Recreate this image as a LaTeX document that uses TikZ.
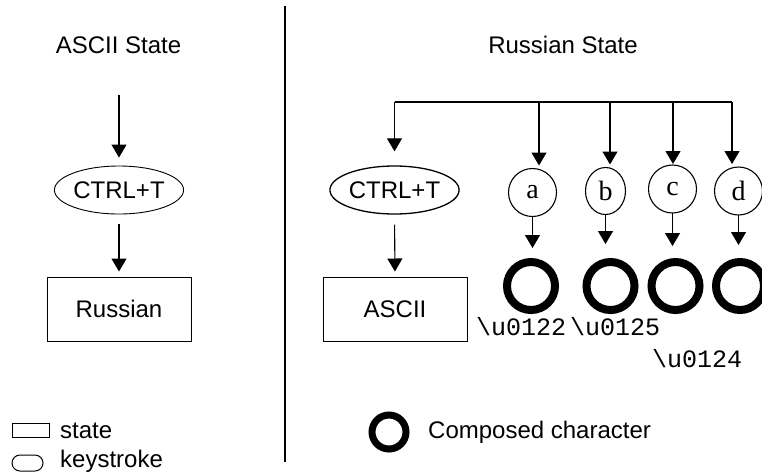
\documentclass[tikz,border=0pt]{standalone}
\usepackage{fontspec}
\setmainfont{Liberation Sans}
\newfontfamily\serifchar{Liberation Serif}
\newfontfamily\monochar{Liberation Mono}
\usetikzlibrary{arrows.meta,shapes.geometric}
\begin{document}
\begin{tikzpicture}[x=1pt,y=-1pt,
  lbl/.style={font=\fontsize{24}{28}\selectfont, inner sep=0pt},
  codelbl/.style={font=\monochar\fontsize{25}{28}\selectfont, inner sep=0pt},
  statebox/.style={draw, line width=1pt, minimum width=144pt, minimum height=64pt, inner sep=0pt, font=\fontsize{24}{28}\selectfont},
  keyell/.style={draw, ellipse, line width=1.1pt, minimum width=128pt, minimum height=48pt, inner sep=0pt, font=\fontsize{24}{28}\selectfont},
  charcirc/.style={draw, circle, line width=1.1pt, minimum size=48pt, inner sep=0pt, outer sep=0pt, font=\serifchar\fontsize{28}{30}\selectfont},
  ring/.style={draw, circle, line width=8pt, minimum size=48pt, inner sep=0pt, outer sep=0pt},
  arr/.style={-{Triangle[length=13pt,width=15pt]}, line width=1.1pt},
  plainline/.style={line width=1.1pt},
]
\useasboundingbox (0,0) rectangle (762,475);

% divider
\coordinate (dt) at (285,6);
\coordinate (db) at (285,462);
\draw[plainline] (dt) -- (db);

% titles
\node[lbl, anchor=base] (asciiT) at (118.5,53) {ASCII State};
\node[lbl, anchor=base] (rusT) at (563,53) {Russian State};

% left column
\coordinate (lin) at (119,95);
\node[keyell, line width=0.9pt] (lkey) at (119,190) {CTRL+T};
\node[statebox] (lbox) at (119,309) {Russian};
\draw[arr, shorten >=8pt] (lin) -- (lkey.north);
\draw[arr, shorten <=10pt, shorten >=5pt] (lkey.south) -- (lbox.north);

% right column: bus
\coordinate (busL) at (394.5,102);
\coordinate (busR) at (732,102);
\coordinate (ja) at (539,102);
\coordinate (jb) at (610,102);
\coordinate (jc) at (673,102);
\draw[plainline] (busL) -- (busR);

\node[keyell, line width=1.3pt] (rkey) at (394.5,190) {CTRL+T};
\node[statebox] (rbox) at (395,309) {ASCII};
\draw[arr, shorten >=14pt] (busL) -- (rkey.north);
\draw[arr, shorten <=10pt, shorten >=5pt] (rkey.south) -- (rbox.north);

% key circles
\node[charcirc] (ca) at (532.5,192.5) {a};
\node[charcirc, ellipse, minimum width=40pt, minimum height=47pt] (cb) at (605.5,191) {b};
\node[charcirc] (cc) at (672.5,189) {c};
\node[charcirc] (cd) at (738.5,191) {d};

\draw[arr, shorten >=3pt] (ja) -- (ja |- ca.north);
\draw[arr, shorten >=3pt] (jb) -- (jb |- cb.north);
\draw[arr, shorten >=1pt] (jc) -- (jc |- cc.north);
\draw[arr, shorten >=3pt] (busR) -- (busR |- cd.north);

% composed characters
\node[ring] (ra) at (531,286) {};
\node[ring] (rb) at (610.5,286) {};
\node[ring] (rc) at (675.5,286) {};
\node[ring] (rd) at (740,286) {};

\draw[arr, shorten >=14pt] (ca.south) -- (ca.south |- ra.north);
\draw[arr, shorten >=18pt] (cb.south) -- (cb.south |- rb.north);
\draw[arr, shorten >=16pt] (cc.south) -- (cc.south |- rc.north);
\draw[arr, shorten >=17pt] (cd.south) -- (cd.south |- rd.north);

\node[codelbl, anchor=base west] (ua) at (476,335) {\textbackslash u0122};
\node[codelbl, anchor=base west] (ub) at (570,335) {\textbackslash u0125};
\node[codelbl, anchor=base west] (uc) at (652,367) {\textbackslash u0124};

% legend
\node[draw, line width=1pt, minimum width=37pt, minimum height=14pt, inner sep=0pt] (lgS) at (30.5,430) {};
\node[lbl, anchor=base west] (lgSt) at (60,438) {state};
\node[draw, line width=1pt, rounded corners=8pt, minimum width=31pt, minimum height=16pt, inner sep=0pt] (lgK) at (27.5,463) {};
\node[lbl, anchor=base west] (lgKt) at (60,467) {keystroke};
\node[draw, circle, line width=7pt, minimum size=34pt, inner sep=0pt] (lgR) at (389,432) {};
\node[lbl, anchor=base west] (lgRt) at (428,438) {Composed character};
\end{tikzpicture}
\end{document}
